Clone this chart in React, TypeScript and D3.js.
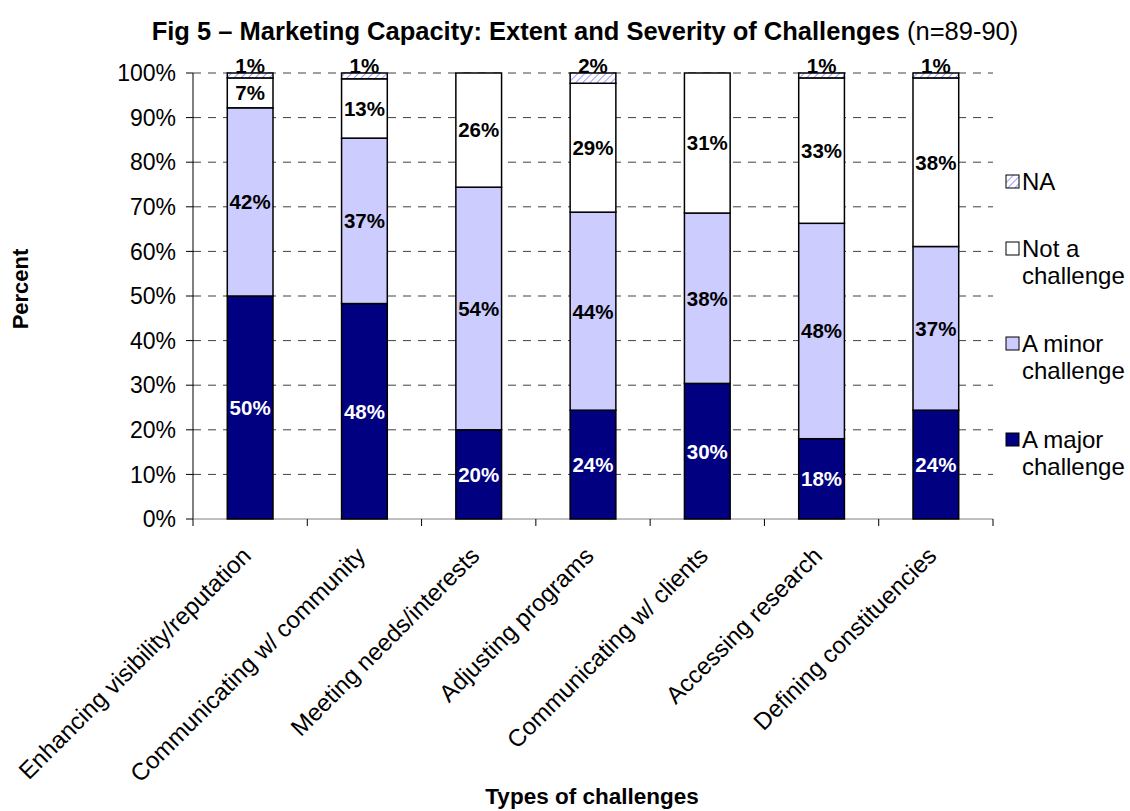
import React from "react";
import * as d3 from "d3";

const categories = [
  "Enhancing visibility/reputation",
  "Communicating w/ community",
  "Meeting needs/interests",
  "Adjusting programs",
  "Communicating w/ clients",
  "Accessing research",
  "Defining constituencies",
];
const majorChallenge = [50.0, 48.3, 20.0, 24.4, 30.4, 18.0, 24.4];
const minorChallenge = [42.2, 37.1, 54.4, 44.4, 38.2, 48.3, 36.7];
const notChallenge = [6.7, 13.3, 25.6, 28.9, 31.4, 32.6, 37.8];
const naValues = [1.1, 1.3, 0, 2.3, 0, 1.1, 1.1];
const yTicks = [0, 10, 20, 30, 40, 50, 60, 70, 80, 90, 100];

const seriesDefs = [
  { key: "major", name: "A major challenge", values: majorChallenge, fill: "#000080", text: "#ffffff" },
  { key: "minor", name: "A minor challenge", values: minorChallenge, fill: "#CCCCFF", text: "#000000" },
  { key: "not", name: "Not a challenge", values: notChallenge, fill: "#ffffff", text: "#000000" },
  { key: "na", name: "NA", values: naValues, fill: "url(#naHatch)", text: "#000000" },
];

const legendItems = [
  { key: "na", lines: ["NA"], fill: "url(#naHatch)", y: 181 },
  { key: "not", lines: ["Not a", "challenge"], fill: "#ffffff", y: 248 },
  { key: "minor", lines: ["A minor", "challenge"], fill: "#CCCCFF", y: 343 },
  { key: "major", lines: ["A major", "challenge"], fill: "#000080", y: 439 },
];

const FONT = "Liberation Sans, Arial, Helvetica, sans-serif";

export default function App() {
  const left = 193;
  const right = 993;
  const top = 73;
  const bottom = 519;

  const x = d3.scaleBand<string>().domain(categories).range([left, right]).paddingInner(0.6).paddingOuter(0.3);
  const xOuter = d3.scaleBand<string>().domain(categories).range([left, right]);
  const y = d3.scaleLinear().domain([0, 100]).range([bottom, top]);

  const rows = categories.map((c, i) => {
    const r: any = { cat: c };
    seriesDefs.forEach((s) => (r[s.key] = s.values[i]));
    return r;
  });
  const stack = d3.stack<any>().keys(seriesDefs.map((s) => s.key));
  const stacked = stack(rows);

  const bw = x.bandwidth();

  return (
    <svg
      width={1130}
      height={811}
      style={{ position: "absolute", left: 0, top: 0, background: "#fff" }}
      fontFamily={FONT}
    >
      <defs>
        <pattern id="naHatch" patternUnits="userSpaceOnUse" width={5} height={5} patternTransform="rotate(45)">
          <rect width={5} height={5} fill="#ffffff" />
          <line x1={0} y1={0} x2={0} y2={5} stroke="#9999FF" strokeWidth={2} />
        </pattern>
      </defs>

      {/* Title */}
      <text x={585} y={40} textAnchor="middle" fontSize={25.5} fill="#000">
        <tspan fontWeight="bold">Fig 5 – Marketing Capacity: Extent and Severity of Challenges</tspan>
        <tspan> (n=89-90)</tspan>
      </text>

      {/* Gridlines */}
      {yTicks.filter((t) => t > 0).map((t) => (
        <line
          key={"g" + t}
          x1={left}
          x2={right}
          y1={y(t)}
          y2={y(t)}
          stroke="#404040"
          strokeWidth={1}
          strokeDasharray="8,7"
        />
      ))}

      {/* Y axis */}
      <line x1={left} x2={left} y1={top} y2={bottom} stroke="#000" strokeWidth={1} />
      {yTicks.map((t) => (
        <g key={"yt" + t}>
          <line x1={left - 7} x2={left} y1={y(t)} y2={y(t)} stroke="#000" />
          <text x={176} y={y(t)} dy="0.36em" textAnchor="end" fontSize={23} fill="#000">
            {t}%
          </text>
        </g>
      ))}

      {/* X axis */}
      <line x1={left} x2={right} y1={bottom} y2={bottom} stroke="#808080" strokeWidth={1} />
      {[...categories.map((c) => xOuter(c) as number), right].map((xv, i) => (
        <line key={"xt" + i} x1={xv} x2={xv} y1={bottom} y2={bottom + 7} stroke="#000" />
      ))}

      {/* Bars */}
      {stacked.map((layer, li) => {
        const s = seriesDefs[li];
        return (
          <g key={s.key}>
            {layer.map((d, i) => {
              const v = d[1] - d[0];
              if (v <= 0) return null;
              const x0 = x(categories[i]) as number;
              return (
                <rect
                  key={i}
                  x={x0}
                  y={y(d[1])}
                  width={bw}
                  height={y(d[0]) - y(d[1])}
                  fill={s.fill}
                  stroke="#000"
                  strokeWidth={1.5}
                />
              );
            })}
          </g>
        );
      })}

      {/* Labels */}
      {stacked.map((layer, li) => {
        const s = seriesDefs[li];
        return (
          <g key={"l" + s.key}>
            {layer.map((d, i) => {
              const v = d[1] - d[0];
              if (v <= 0) return null;
              const cx = (x(categories[i]) as number) + bw / 2;
              let cy = y((d[0] + d[1]) / 2);
              if (v < 3) cy = y(d[1]) - 7;
              return (
                <text
                  key={i}
                  x={cx}
                  y={cy}
                  dy="0.36em"
                  textAnchor="middle"
                  fontSize={20.5}
                  fontWeight="bold"
                  fill={s.text}
                >
                  {Math.round(v)}%
                </text>
              );
            })}
          </g>
        );
      })}

      {/* X category labels */}
      {categories.map((c) => {
        const cx = (x(c) as number) + bw / 2;
        return (
          <text
            key={"xl" + c}
            transform={`translate(${cx - 10},${545}) rotate(-45)`}
            textAnchor="end"
            dy="0.72em"
            fontSize={24}
            fill="#000"
          >
            {c}
          </text>
        );
      })}

      {/* Axis titles */}
      <text x={592} y={804} textAnchor="middle" fontSize={22.5} fontWeight="bold" fill="#000">
        Types of challenges
      </text>
      <text
        transform={`translate(20,289) rotate(-90)`}
        textAnchor="middle"
        dy="0.36em"
        fontSize={22}
        fontWeight="bold"
        fill="#000"
      >
        Percent
      </text>

      {/* Legend */}
      {legendItems.map((it) => (
        <g key={"lg" + it.key}>
          <rect x={1006} y={it.y - 6} width={13} height={13} fill={it.fill} stroke="#000" strokeWidth={1} />
          {it.lines.map((ln, j) => (
            <text key={j} x={1022} y={it.y + j * 27} dy="0.36em" fontSize={24} fill="#000">
              {ln}
            </text>
          ))}
        </g>
      ))}
    </svg>
  );
}
